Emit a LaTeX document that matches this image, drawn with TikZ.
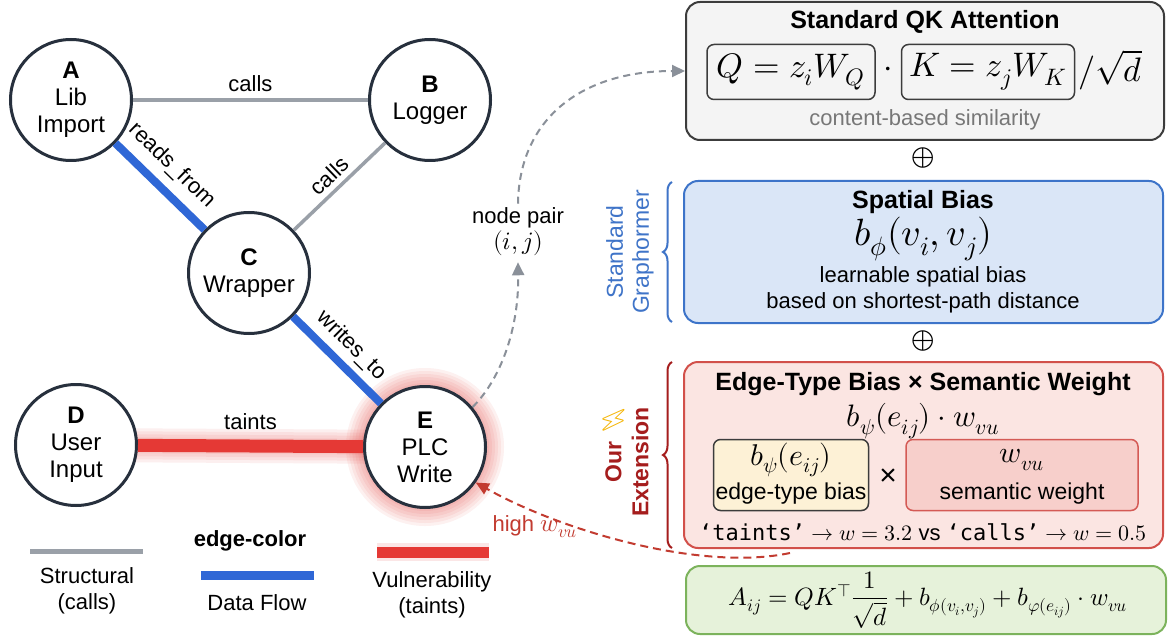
\documentclass[tikz,border=0pt]{standalone}
\usepackage{fontspec}
\usepackage{unicode-math}
\setmainfont{Liberation Sans}
\setmonofont{DejaVu Sans Mono}
\setmathfont{Latin Modern Math}
\newfontfamily\emojifont{Noto Emoji}
\usetikzlibrary{arrows.meta,decorations.pathreplacing,backgrounds,calc}

\definecolor{nodeline}{HTML}{27303D}
\definecolor{structgray}{HTML}{9AA0A8}
\definecolor{flowblue}{HTML}{2F67D6}
\definecolor{taintred}{HTML}{E53935}
\definecolor{boxaline}{HTML}{3C3C3C}
\definecolor{boxafill}{HTML}{F4F4F4}
\definecolor{boxbline}{HTML}{3D74C9}
\definecolor{boxbfill}{HTML}{DAE6F7}
\definecolor{boxcline}{HTML}{D2504A}
\definecolor{boxcfill}{HTML}{FBE5E2}
\definecolor{yelfill}{HTML}{FDF1D6}
\definecolor{pinkfill}{HTML}{F7CFCB}
\definecolor{pinkline}{HTML}{D45A55}
\definecolor{boxdline}{HTML}{7CB35C}
\definecolor{boxdfill}{HTML}{E6F2DA}
\definecolor{braceblue}{HTML}{3F74C8}
\definecolor{bracered}{HTML}{A51D1D}
\definecolor{hwred}{HTML}{C23B30}
\definecolor{dashgray}{HTML}{8A9099}
\definecolor{subgray}{HTML}{777777}
\definecolor{boltyellow}{HTML}{F5B400}

\begin{document}
\begin{tikzpicture}[x=1pt,y=1pt,
  gnode/.style={circle, draw=nodeline, line width=3pt, fill=white, minimum size=121pt,
    inner sep=0pt, align=center, font=\fontsize{24}{27}\selectfont},
  elabel/.style={font=\fontsize{22}{26}\selectfont, text=black, inner sep=2pt},
  ttl/.style={font=\fontsize{25}{29}\selectfont\bfseries, inner sep=0pt},
  txt/.style={font=\fontsize{22}{26}\selectfont, inner sep=0pt, align=center},
  bigmath/.style={font=\fontsize{38}{40}\selectfont, inner sep=0pt},
  panel/.style={rectangle, rounded corners=14pt, line width=2pt, inner sep=0pt},
  subbox/.style={rectangle, rounded corners=7pt, line width=1.5pt, inner sep=0pt},
  structedge/.style={structgray, line width=3.5pt},
  flowedge/.style={flowblue, line width=8pt},
  taintedge/.style={taintred, line width=13pt},
  grayarrow/.style={dashgray, line width=2pt, dash pattern=on 7pt off 5pt,
    -{Triangle[length=13pt,width=12pt]}},
  redarrow/.style={hwred, line width=2pt, dash pattern=on 8pt off 5pt,
    -{Triangle[length=13pt,width=12pt]}},
  bracestyle/.style={line width=2pt, decorate, decoration={brace, amplitude=9pt}},
  oplusnode/.style={font=\fontsize{30}{32}\selectfont, inner sep=0pt}
]
\useasboundingbox (0,0) rectangle (1169,-639);

% ---------------- graph nodes ----------------
\node[gnode] (A) at (71,-100) {\textbf{A}\\Lib\\Import};
\node[gnode] (B) at (430,-100) {\textbf{B}\\Logger};
\node[gnode] (C) at (249,-273) {\textbf{C}\\Wrapper};
\node[gnode] (D) at (76,-445) {\textbf{D}\\User\\Input};
\node[gnode] (E) at (425,-447) {\textbf{E}\\PLC\\Write};

% background and glows
\begin{scope}[on background layer]
  \fill[white] (0,0) rectangle (1169,-639);
  \foreach \w in {6,12,...,36} \draw[taintred, opacity=0.07, line width=\w pt] (E.center) circle (61pt);
  \foreach \w in {16,22,...,34} \draw[taintred, opacity=0.08, line width=\w pt] (D.center) -- (E.center);
\end{scope}

% ---------------- graph edges ----------------
\draw[structedge] (A) -- node[elabel, above=5pt] {calls} (B);
\draw[flowedge] (A) -- node[elabel, sloped, above=7pt, pos=0.45] {reads\_from} (C);
\draw[structedge] (B) -- node[elabel, sloped, above=3pt] {calls} (C);
\draw[flowedge] (C) -- node[elabel, sloped, above=4pt] {writes\_to} (E);
\draw[taintedge] (D) -- node[elabel, above=8pt] {taints} (E);

% ---------------- legend ----------------
\node[ttl, font=\fontsize{22}{26}\selectfont\bfseries] (legt) at (250,-541) {edge-color};
\draw[structgray, line width=5pt] (30,-551) -- (143,-551);
\node[txt] (leg1) at (87,-591) {Structural\\(calls)};
\draw[flowblue, line width=9pt] (201,-575) -- (314,-575);
\node[txt] (leg2) at (257,-603) {Data Flow};
\draw[taintred, opacity=0.12, line width=18pt] (377,-552) -- (489,-552);
\draw[taintred, line width=11pt] (377,-552) -- (489,-552);
\node[txt] (leg3) at (432,-595) {Vulnerability\\(taints)};

% ---------------- panel 1 ----------------
\node[panel, draw=boxaline, fill=boxafill, minimum width=478pt, minimum height=138pt] (p1) at (925,-71) {};
\node[ttl] (p1t) at (925,-22) {Standard QK Attention};
\node[subbox, draw=boxaline, fill=boxafill, minimum width=168pt, minimum height=55pt] (qb) at (791,-72) {};
\node[bigmath, font=\fontsize{34}{36}\selectfont] at (qb) {$Q = z_iW_Q$};
\node[bigmath, font=\fontsize{34}{36}\selectfont] (dt) at (888,-72) {$\cdot$};
\node[subbox, draw=boxaline, fill=boxafill, minimum width=173pt, minimum height=55pt] (kb) at (988,-72) {};
\node[bigmath, font=\fontsize{34}{36}\selectfont] at (kb) {$K = z_jW_K$};
\node[bigmath, font=\fontsize{34}{36}\selectfont] (sq) at (1110,-70) {$/\sqrt{d}$};
\node[txt, text=subgray] (p1s) at (925,-120) {content-based similarity};

\node[oplusnode] (op1) at (923,-158) {$\oplus$};

% ---------------- panel 2 ----------------
\node[panel, draw=boxbline, fill=boxbfill, minimum width=479pt, minimum height=142pt] (p2) at (923.5,-252) {};
\node[ttl] (p2t) at (923,-202) {Spatial Bias};
\node[bigmath] (p2m) at (923,-239) {$b_{\phi}(v_i, v_j)$};
\node[txt] (p2s) at (923,-290) {learnable spatial bias\\based on shortest-path distance};
\draw[braceblue, bracestyle] (672,-322) -- (672,-182);
\node[txt, rotate=90, text=braceblue, font=\fontsize{23}{26}\selectfont] (sg) at (630,-252) {Standard\\Graphormer};

\node[oplusnode] (op2) at (923,-341) {$\oplus$};

% ---------------- panel 3 ----------------
\node[panel, draw=boxcline, fill=boxcfill, minimum width=479pt, minimum height=186pt] (p3) at (923.5,-455) {};
\node[ttl] (p3t) at (923,-384) {Edge-Type Bias × Semantic Weight};
\node[bigmath, font=\fontsize{31}{34}\selectfont] (p3m) at (923,-421) {$b_{\psi}(e_{ij})\cdot w_{vu}$};
\node[subbox, draw=boxaline, fill=yelfill, minimum width=155pt, minimum height=71pt] (yb) at (791,-475) {};
\node[bigmath, font=\fontsize{30}{32}\selectfont] at (791,-460) {$b_{\psi}(e_{ij})$};
\node[txt, font=\fontsize{23}{26}\selectfont] at (791,-494) {edge-type bias};
\node[txt, font=\fontsize{30}{32}\selectfont] (tm) at (888,-477) {×};
\node[subbox, draw=pinkline, fill=pinkfill, minimum width=232pt, minimum height=71pt] (pb) at (1022,-475) {};
\node[bigmath, font=\fontsize{30}{32}\selectfont] at (1022,-460) {$w_{vu}$};
\node[txt, font=\fontsize{23}{26}\selectfont] at (1022,-494) {semantic weight};
\node[txt] (p3s) at (923,-532) {{\ttfamily ‘taints’} $\rightarrow w = 3.2$ vs {\ttfamily ‘calls’} $\rightarrow w = 0.5$};
\draw[bracered, bracestyle] (672,-548) -- (672,-362);
\node[txt, rotate=90, text=bracered, font=\fontsize{23}{27}\selectfont\bfseries] (oe) at (627,-462) {Our\\Extension};
\node[text=boltyellow, rotate=-15, font=\fontsize{26}{28}\selectfont\emojifont, inner sep=0pt] (bolt) at (613,-420) {⚡};

% ---------------- panel 4 ----------------
\node[panel, draw=boxdline, fill=boxdfill, minimum width=480pt, minimum height=68pt] (p4) at (926,-600) {};
\node[bigmath, font=\fontsize{25}{28}\selectfont] (p4m) at (928,-600)
  {$A_{ij} = QK^{\top}\dfrac{1}{\sqrt{d}} + b_{\phi(v_i,v_j)} + b_{\varphi(e_{ij})}\cdot w_{vu}$};

% ---------------- dashed connectors ----------------
\node[txt] (pair) at (518,-232) {node pair\\{\fontsize{25}{28}\selectfont$(i,j)$}};
\draw[grayarrow] (E.40) .. controls (500,-380) and (519,-330) .. ([yshift=-6pt]pair.south);
\draw[grayarrow] ([yshift=4pt]pair.north) .. controls (519,-120) and (580,-71) .. (p1.west);

\coordinate (wsrc) at (790,-553);
\draw[redarrow] (wsrc) .. controls (700,-572) and (560,-530) .. (E.-35);
\node[txt, text=hwred] (hw) at (535,-527) {high {\fontsize{25}{28}\selectfont$w_{vu}$}};

\end{tikzpicture}
\end{document}
